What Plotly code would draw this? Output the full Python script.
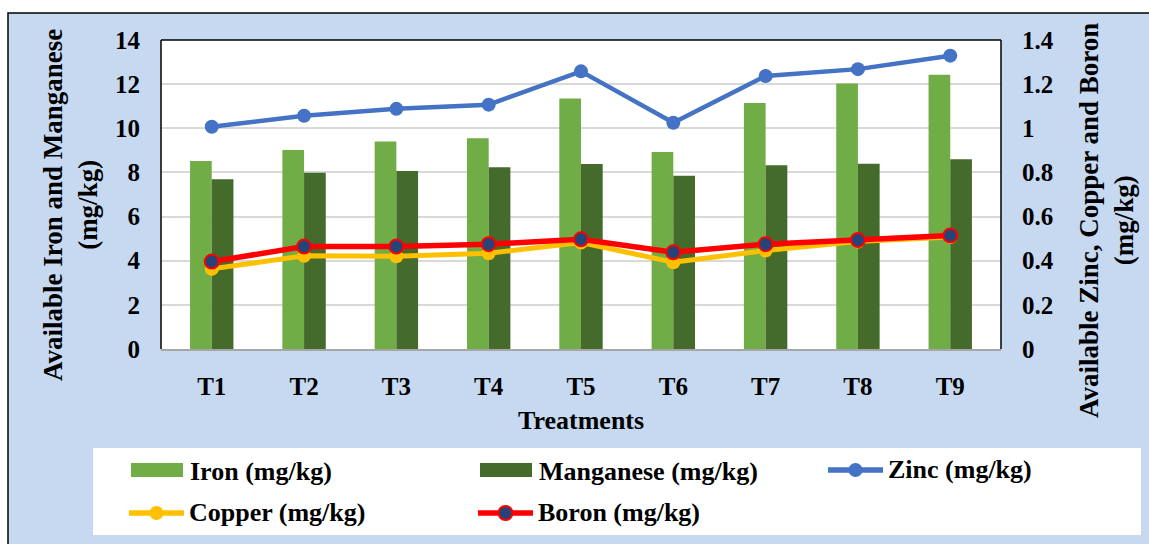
import plotly.graph_objects as go

# ---- data ----
treatments = ["T1", "T2", "T3", "T4", "T5", "T6", "T7", "T8", "T9"]
iron = [8.52, 9.02, 9.40, 9.55, 11.35, 8.92, 11.14, 12.03, 12.43]
manganese = [7.69, 7.98, 8.07, 8.24, 8.38, 7.85, 8.33, 8.39, 8.60]
zinc = [1.007, 1.057, 1.088, 1.107, 1.258, 1.025, 1.237, 1.268, 1.329]
copper = [0.363, 0.422, 0.420, 0.434, 0.482, 0.393, 0.446, 0.487, 0.507]
boron = [0.396, 0.464, 0.464, 0.475, 0.497, 0.438, 0.475, 0.494, 0.514]

left_ticks = [0, 2, 4, 6, 8, 10, 12, 14]
right_ticks = [0, 0.2, 0.4, 0.6, 0.8, 1.0, 1.2, 1.4]
right_tick_text = ["0", "0.2", "0.4", "0.6", "0.8", "1", "1.2", "1.4"]

# ---- styling ----
W, H = 1149, 544
PL, PR, PT, PB = 161, 1001, 40, 349          # plot-area pixel box
BG = "#C6D9F1"
C_IRON, C_MN = "#70AD47", "#446A2C"
C_ZN, C_CU, C_B, C_B_FILL = "#4472C4", "#FFC000", "#FF0000", "#264478"
FONT = "Liberation Serif"


def px(x):
    return (x - PL) / (PR - PL)


def py(y):
    return (PB - y) / (PB - PT)


fig = go.Figure()

fig.add_trace(go.Bar(x=treatments, y=iron, name="Iron (mg/kg)",
                     marker=dict(color=C_IRON, line=dict(width=0))))
fig.add_trace(go.Bar(x=treatments, y=manganese, name="Manganese (mg/kg)",
                     marker=dict(color=C_MN, line=dict(width=0))))
fig.add_trace(go.Scatter(x=treatments, y=zinc, name="Zinc (mg/kg)", yaxis="y2",
                         mode="lines+markers",
                         line=dict(color=C_ZN, width=4.5),
                         marker=dict(color=C_ZN, size=14)))
fig.add_trace(go.Scatter(x=treatments, y=copper, name="Copper (mg/kg)", yaxis="y2",
                         mode="lines+markers",
                         line=dict(color=C_CU, width=5),
                         marker=dict(color=C_CU, size=14)))
fig.add_trace(go.Scatter(x=treatments, y=boron, name="Boron (mg/kg)", yaxis="y2",
                         mode="lines+markers",
                         line=dict(color=C_B, width=5.5),
                         marker=dict(color=C_B_FILL, size=14,
                                     line=dict(color=C_B, width=2))))

shapes = []
# white strip outside the chart frame, then the frame itself
shapes.append(dict(type="rect", xref="paper", yref="paper", layer="below",
                   x0=px(-5), x1=px(W + 5), y0=py(13), y1=py(-5),
                   fillcolor="white", line=dict(width=0)))
shapes.append(dict(type="rect", xref="paper", yref="paper", layer="below",
                   x0=px(-5), x1=px(8), y0=py(H + 5), y1=py(-5),
                   fillcolor="white", line=dict(width=0)))
shapes.append(dict(type="rect", xref="paper", yref="paper", layer="below",
                   x0=px(8), x1=px(W + 20), y0=py(H + 20), y1=py(13),
                   fillcolor="rgba(0,0,0,0)", line=dict(color="black", width=1.5)))
# plot-area border (left, top, right)
for (x0, y0, x1, y1) in [(0, 0, 0, 1), (0, 1, 1, 1), (1, 0, 1, 1)]:
    shapes.append(dict(type="line", xref="paper", yref="paper", layer="above",
                       x0=x0, y0=y0, x1=x1, y1=y1,
                       line=dict(color="black", width=1.5)))
# legend box
shapes.append(dict(type="rect", xref="paper", yref="paper", layer="below",
                   x0=px(93), x1=px(1141), y0=py(535), y1=py(448),
                   fillcolor="white", line=dict(width=0)))

annotations = []


def legend_text(x, y, text):
    annotations.append(dict(xref="paper", yref="paper", x=px(x), y=py(y),
                            xanchor="left", yanchor="middle", showarrow=False,
                            text="<b>" + text + "</b>",
                            font=dict(family=FONT, size=26, color="black")))


def legend_bar(x0, y, color, label):
    shapes.append(dict(type="rect", xref="paper", yref="paper",
                       x0=px(x0), x1=px(x0 + 52), y0=py(y + 7), y1=py(y - 7),
                       fillcolor=color, line=dict(width=0)))
    legend_text(x0 + 57, y + 1, label)


def legend_line(x0, y, color, fill, label, edge=None):
    shapes.append(dict(type="line", xref="paper", yref="paper",
                       x0=px(x0), x1=px(x0 + 55), y0=py(y), y1=py(y),
                       line=dict(color=color, width=5.5)))
    cx, r = x0 + 27.5, 7
    shapes.append(dict(type="circle", xref="paper", yref="paper",
                       x0=px(cx - r), x1=px(cx + r), y0=py(y + r), y1=py(y - r),
                       fillcolor=fill,
                       line=dict(color=edge or fill, width=2 if edge else 0)))
    legend_text(x0 + 58, y - 1, label)


legend_bar(131, 470, C_IRON, "Iron (mg/kg)")
legend_bar(480, 470, C_MN, "Manganese (mg/kg)")
legend_line(828, 470, C_ZN, C_ZN, "Zinc (mg/kg)")
legend_line(129, 513, C_CU, C_CU, "Copper (mg/kg)")
legend_line(478, 513, C_B, C_B_FILL, "Boron (mg/kg)", edge=C_B)

# axis titles
annotations.append(dict(xref="paper", yref="paper", x=px(70), y=py(205),
                        xanchor="center", yanchor="middle", showarrow=False,
                        textangle=-90,
                        text="<b>Available Iron and Manganese<br>(mg/kg)</b>",
                        font=dict(family=FONT, size=27, color="black")))
annotations.append(dict(xref="paper", yref="paper", x=px(1106), y=py(221),
                        xanchor="center", yanchor="middle", showarrow=False,
                        textangle=-90,
                        text="<b>Available Zinc, Copper and Boron<br>(mg/kg)</b>",
                        font=dict(family=FONT, size=27, color="black")))
annotations.append(dict(xref="paper", yref="paper", x=px(581), y=py(420),
                        xanchor="center", yanchor="middle", showarrow=False,
                        text="<b>Treatments</b>",
                        font=dict(family=FONT, size=26, color="black")))

tick_font = dict(family=FONT, size=25, color="black", weight="bold")

fig.update_layout(
    width=W, height=H,
    margin=dict(l=PL, r=W - PR, t=PT, b=H - PB, pad=0),
    paper_bgcolor=BG, plot_bgcolor="white",
    barmode="group", bargap=0.53, bargroupgap=0,
    showlegend=False,
    shapes=shapes, annotations=annotations,
    xaxis=dict(showgrid=False, showline=True, linecolor="#A6A6A6", linewidth=1.5,
               ticks="", tickfont=tick_font, ticklabelstandoff=14),
    yaxis=dict(range=[0, 14], tickvals=left_ticks, showgrid=True,
               gridcolor="#D9D9D9", gridwidth=1.5, zeroline=False,
               ticks="", tickfont=tick_font, ticklabelstandoff=20),
    yaxis2=dict(range=[0, 1.4], tickvals=right_ticks, ticktext=right_tick_text,
                overlaying="y", side="right", showgrid=False, zeroline=False,
                ticks="", tickfont=tick_font, ticklabelstandoff=20),
)

fig.write_html("out.html")
